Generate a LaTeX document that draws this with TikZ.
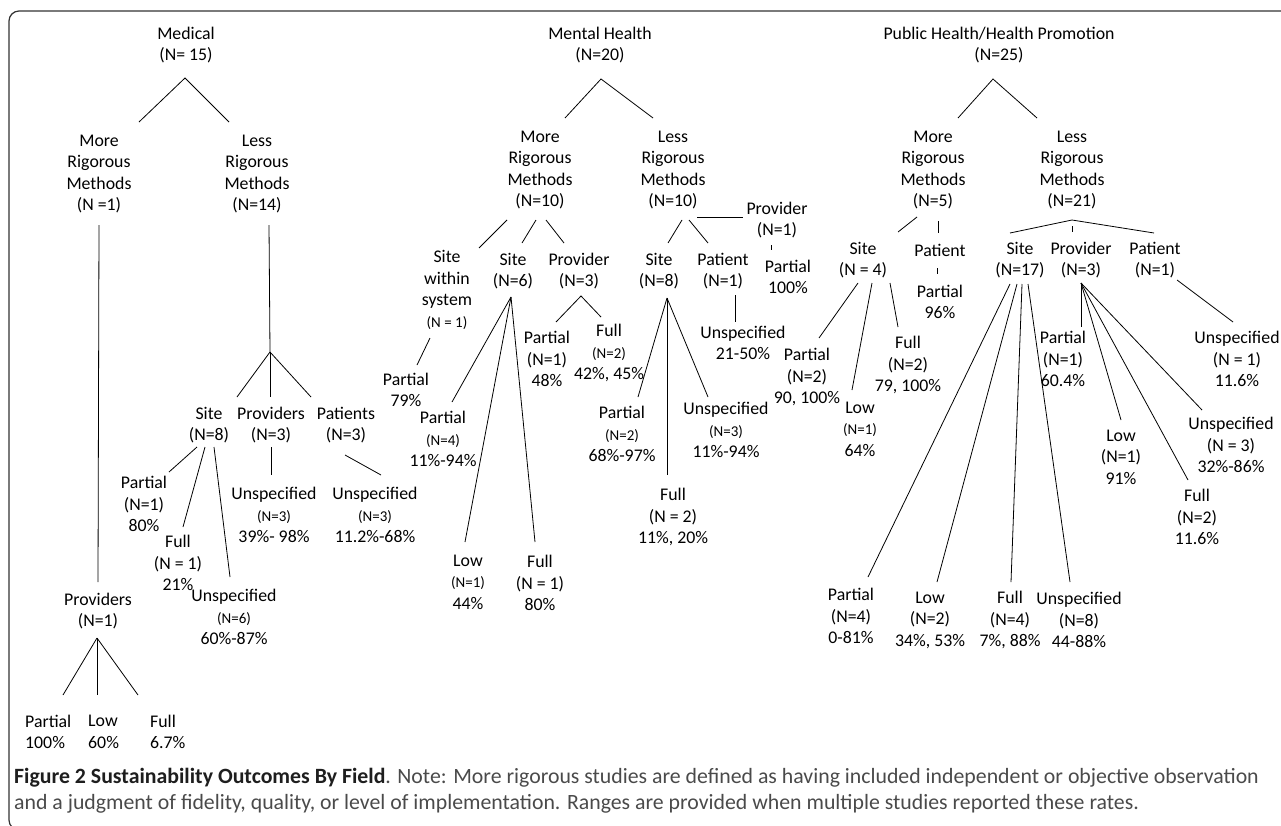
\documentclass[tikz,border=0pt]{standalone}
\usepackage{fontspec}
\setmainfont{Carlito}
\newcommand\sm{\fontsize{15}{21.5}\selectfont}
\definecolor{capgray}{HTML}{4A4A4A}
\definecolor{capdark}{HTML}{1E1E1E}
\tikzset{
  lbl/.style={align=center, inner sep=0pt, font=\fontsize{17.8}{21.5}\selectfont},
  lbll/.style={align=left, inner sep=0pt, anchor=west, font=\fontsize{17.8}{21.5}\selectfont},
  ln/.style={line width=0.8pt, black},
  boxframe/.style={line width=1.2pt, draw=black!80, rounded corners=10pt},
  captxt/.style={inner sep=0pt, anchor=base west, font=\fontsize{21.8}{26}\selectfont}
}
\begin{document}
\begin{tikzpicture}[x=1pt,y=-1pt]
\useasboundingbox (0,0) rectangle (1281,825);
\begin{scope}
\clip (0,0) rectangle (1281,825);
\draw[boxframe] (9,11) rectangle (1330,830);
\end{scope}

% ================= Medical =================
\node[lbl] (med) at (186,45) {Medical\\(N= 15)};
\node[lbl] (medM) at (99,174) {More\\Rigorous\\Methods\\(N =1)};
\node[lbl] (medL) at (257,174) {Less\\Rigorous\\Methods\\(N=14)};
\node[lbl] (medSite) at (209,425) {Site\\(N=8)};
\node[lbl] (medProv) at (271,425) {Providers\\(N=3)};
\node[lbl] (medPat) at (346,425) {Patients\\(N=3)};
\node[lbl] (medSP) at (144,504) {Partial\\(N=1)\\80\%};
\node[lbl] (medSF) at (178,563) {Full\\(N = 1)\\21\%};
\node[lbl] (medSU) at (234,617) {Unspecified\\{\sm (N=6)}\\60\%-87\%};
\node[lbl] (medPU) at (274,515) {Unspecified\\{\sm (N=3)}\\39\%- 98\%};
\node[lbl] (medPaU) at (375,515) {Unspecified\\{\sm (N=3)}\\11.2\%-68\%};
\node[lbl] (medMP) at (98,611) {Providers\\(N=1)};
\node[lbll] (medLP) at (25,732) {Partial\\100\%};
\node[lbll] (medLL) at (88,732) {Low\\60\%};
\node[lbll] (medLF) at (150,732) {Full\\6.7\%};

\coordinate (mA) at (185,78); \coordinate (mA1) at (139,122); \coordinate (mA2) at (229,122);
\draw[ln] (mA1) -- (mA) -- (mA2);
\coordinate (mM1) at (99,225); \coordinate (mM2) at (98,582);
\draw[ln] (mM1) -- (mM2);
\coordinate (mL1) at (269,225); \coordinate (mL2) at (270,352);
\coordinate (mL3) at (237,397); \coordinate (mL4) at (270,397); \coordinate (mL5) at (311,397);
\draw[ln] (mL1) -- (mL2);
\draw[ln] (mL2) -- (mL3); \draw[ln] (mL2) -- (mL4); \draw[ln] (mL2) -- (mL5);
\coordinate (mS1) at (197,447); \coordinate (mS1e) at (169,472);
\coordinate (mS2) at (205,447); \coordinate (mS2e) at (183,527);
\coordinate (mS3) at (214,447); \coordinate (mS3e) at (230,577);
\draw[ln] (mS1) -- (mS1e); \draw[ln] (mS2) -- (mS2e); \draw[ln] (mS3) -- (mS3e);
\coordinate (mP1) at (271,447); \coordinate (mP1e) at (271,475);
\draw[ln] (mP1) -- (mP1e);
\coordinate (mPa1) at (345,455); \coordinate (mPa1e) at (381,475);
\draw[ln] (mPa1) -- (mPa1e);
\coordinate (mV) at (97,638); \coordinate (mV1) at (63,695); \coordinate (mV2) at (97,695); \coordinate (mV3) at (138,695);
\draw[ln] (mV) -- (mV1); \draw[ln] (mV) -- (mV2); \draw[ln] (mV) -- (mV3);

% ================= Mental Health =================
\node[lbl] (mh) at (600,45) {Mental Health\\(N=20)};
\node[lbl] (mhM) at (540,170) {More\\Rigorous\\Methods\\(N=10)};
\node[lbl] (mhL) at (673,170) {Less\\Rigorous\\Methods\\(N=10)};
\node[lbl] (mhSWS) at (447,290) {Site\\within\\system\\{\sm (N = 1)}};
\node[lbl] (mhS6) at (513,271) {Site\\(N=6)};
\node[lbl] (mhP3) at (579,271) {Provider\\(N=3)};
\node[lbl] (mhSWSp) at (406,390) {Partial\\79\%};
\node[lbl] (mhS6p) at (443,439) {Partial\\{\sm (N=4)}\\11\%-94\%};
\node[lbl] (mhS6l) at (468,582) {Low\\{\sm (N=1)}\\44\%};
\node[lbl] (mhS6f) at (540,583) {Full\\(N = 1)\\80\%};
\node[lbl] (mhP3p) at (547,359) {Partial\\(N=1)\\48\%};
\node[lbl] (mhP3f) at (609,353) {Full\\{\sm (N=2)}\\42\%, 45\%};
\node[lbl] (mhP1) at (777,220) {Provider\\(N=1)};
\node[lbl] (mhP1p) at (788,277) {Partial\\100\%};
\node[lbl] (mhS8) at (659,271) {Site\\(N=8)};
\node[lbl] (mhPa1) at (723,271) {Patient\\(N=1)};
\node[lbl] (mhPa1u) at (743,343) {Unspecified\\21-50\%};
\node[lbl] (mhS8p) at (622,434) {Partial\\{\sm (N=2)}\\68\%-97\%};
\node[lbl] (mhS8u) at (726,430) {Unspecified\\{\sm (N=3)}\\11\%-94\%};
\node[lbl] (mhS8f) at (673,517) {Full\\(N = 2)\\11\%, 20\%};

\coordinate (hA) at (601,79); \coordinate (hA1) at (565,118); \coordinate (hA2) at (653,118);
\draw[ln] (hA1) -- (hA) -- (hA2);
\coordinate (hM1) at (507,220); \coordinate (hM1e) at (479,248);
\coordinate (hM2) at (536,220); \coordinate (hM2e) at (522,243);
\coordinate (hM3) at (546,220); \coordinate (hM3e) at (564,243);
\draw[ln] (hM1) -- (hM1e); \draw[ln] (hM2) -- (hM2e); \draw[ln] (hM3) -- (hM3e);
\coordinate (hW1) at (430,338); \coordinate (hW1e) at (417,365);
\draw[ln] (hW1) -- (hW1e);
\coordinate (hS6) at (511,297);
\coordinate (hS6a) at (452,402); \coordinate (hS6b) at (465,542); \coordinate (hS6c) at (535,542);
\draw[ln] (hS6) -- (hS6a); \draw[ln] (hS6) -- (hS6b); \draw[ln] (hS6) -- (hS6c);
\coordinate (hP3) at (581,296); \coordinate (hP3a) at (556,322); \coordinate (hP3b) at (601,317);
\draw[ln] (hP3a) -- (hP3) -- (hP3b);
\coordinate (hL1) at (682,220); \coordinate (hL1e) at (668,243);
\coordinate (hL2) at (689,220); \coordinate (hL2e) at (708,243);
\draw[ln] (hL1) -- (hL1e); \draw[ln] (hL2) -- (hL2e);
\coordinate (hH1) at (697,217); \coordinate (hH2) at (743,217);
\draw[ln] (hH1) -- (hH2);
\coordinate (hT1) at (771,245); \coordinate (hT2) at (771,250);
\draw[ln] (hT1) -- (hT2);
\coordinate (hS8) at (667,298);
\coordinate (hS8a) at (638,397); \coordinate (hS8b) at (667,475); \coordinate (hS8c) at (708,397);
\draw[ln] (hS8) -- (hS8a); \draw[ln] (hS8) -- (hS8b); \draw[ln] (hS8) -- (hS8c);
\coordinate (hPa) at (735,295); \coordinate (hPae) at (735,322);
\draw[ln] (hPa) -- (hPae);

% ================= Public Health =================
\node[lbl] (ph) at (999,45) {Public Health/Health Promotion\\(N=25)};
\node[lbl] (phM) at (933,170) {More\\Rigorous\\Methods\\(N=5)};
\node[lbl] (phL) at (1072,170) {Less\\Rigorous\\Methods\\(N=21)};
\node[lbl] (phS4) at (863,260) {Site\\(N = 4)};
\node[lbl] (phPat) at (940,250) {Patient};
\node[lbl] (phPatp) at (940,302) {Partial\\96\%};
\node[lbl] (phS4p) at (807,377) {Partial\\(N=2)\\90, 100\%};
\node[lbl] (phS4l) at (860,429) {Low\\{\sm (N=1)}\\64\%};
\node[lbl] (phS4f) at (908,365) {Full\\(N=2)\\79, 100\%};
\node[lbl] (phS17) at (1020,260) {Site\\(N=17)};
\node[lbl] (phP3) at (1081,260) {Provider\\(N=3)};
\node[lbl] (phPa1) at (1155,260) {Patient\\(N=1)};
\node[lbl] (phPa1u) at (1237,359) {Unspecified\\(N = 1)\\11.6\%};
\node[lbl] (phS17p) at (851,616) {Partial\\(N=4)\\0-81\%};
\node[lbl] (phS17l) at (930,620) {Low\\(N=2)\\34\%, 53\%};
\node[lbl] (phS17f) at (1010,620) {Full\\(N=4)\\7\%, 88\%};
\node[lbl] (phS17u) at (1079,620) {Unspecified\\(N=8)\\44-88\%};
\node[lbl] (phP3p) at (1063,359) {Partial\\(N=1)\\60.4\%};
\node[lbl] (phP3l) at (1121,457) {Low\\(N=1)\\91\%};
\node[lbl] (phP3f) at (1197,517) {Full\\(N=2)\\11.6\%};
\node[lbl] (phP3u) at (1231,445) {Unspecified\\(N = 3)\\32\%-86\%};

\coordinate (pA) at (993,79); \coordinate (pA1) at (958,118); \coordinate (pA2) at (1037,118);
\draw[ln] (pA1) -- (pA) -- (pA2);
\coordinate (pM1) at (917,217); \coordinate (pM1e) at (898,232);
\coordinate (pM2) at (938,221); \coordinate (pM2e) at (938,233);
\draw[ln] (pM1) -- (pM1e); \draw[ln] (pM2) -- (pM2e);
\coordinate (pPt1) at (937,268); \coordinate (pPt2) at (937,274);
\draw[ln] (pPt1) -- (pPt2);
\coordinate (pS4a) at (858,283); \coordinate (pS4ae) at (819,338);
\coordinate (pS4b) at (872,283); \coordinate (pS4be) at (852,390);
\coordinate (pS4c) at (890,283); \coordinate (pS4ce) at (898,327);
\draw[ln] (pS4a) -- (pS4ae); \draw[ln] (pS4b) -- (pS4be); \draw[ln] (pS4c) -- (pS4ce);
\coordinate (pL) at (1072,220); \coordinate (pL1) at (1010,233); \coordinate (pL3) at (1154,233);
\draw[ln] (pL1) -- (pL) -- (pL3);
\coordinate (pLt1) at (1072,226); \coordinate (pLt2) at (1072,232);
\draw[ln] (pLt1) -- (pLt2);
\coordinate (pPa) at (1177,280); \coordinate (pPae) at (1233,322);
\draw[ln] (pPa) -- (pPae);
\coordinate (pS1) at (1010,284); \coordinate (pS1e) at (868,577);
\coordinate (pS2) at (1017,284); \coordinate (pS2e) at (937,582);
\coordinate (pS3) at (1022,284); \coordinate (pS3e) at (1011,582);
\coordinate (pS5) at (1028,284); \coordinate (pS5e) at (1070,582);
\draw[ln] (pS1) -- (pS1e); \draw[ln] (pS2) -- (pS2e); \draw[ln] (pS3) -- (pS3e); \draw[ln] (pS5) -- (pS5e);
\coordinate (pP) at (1081,283);
\coordinate (pPp) at (1081,327); \coordinate (pPl) at (1121,420);
\coordinate (pPf) at (1188,480); \coordinate (pPu) at (1202,410);
\draw[ln] (pP) -- (pPp); \draw[ln] (pP) -- (pPl); \draw[ln] (pP) -- (pPf); \draw[ln] (pP) -- (pPu);

% ================= Caption =================
\node[captxt] (cap1) at (14,783) {\textcolor{capdark}{\textbf{Figure 2 Sustainability Outcomes By Field}}\textcolor{capgray}{. Note: More rigorous studies are defined as having included independent or objective observation}};
\node[captxt] (cap2) at (14,809) {\textcolor{capgray}{and a judgment of fidelity, quality, or level of implementation. Ranges are provided when multiple studies reported these rates.}};
\end{tikzpicture}
\end{document}
